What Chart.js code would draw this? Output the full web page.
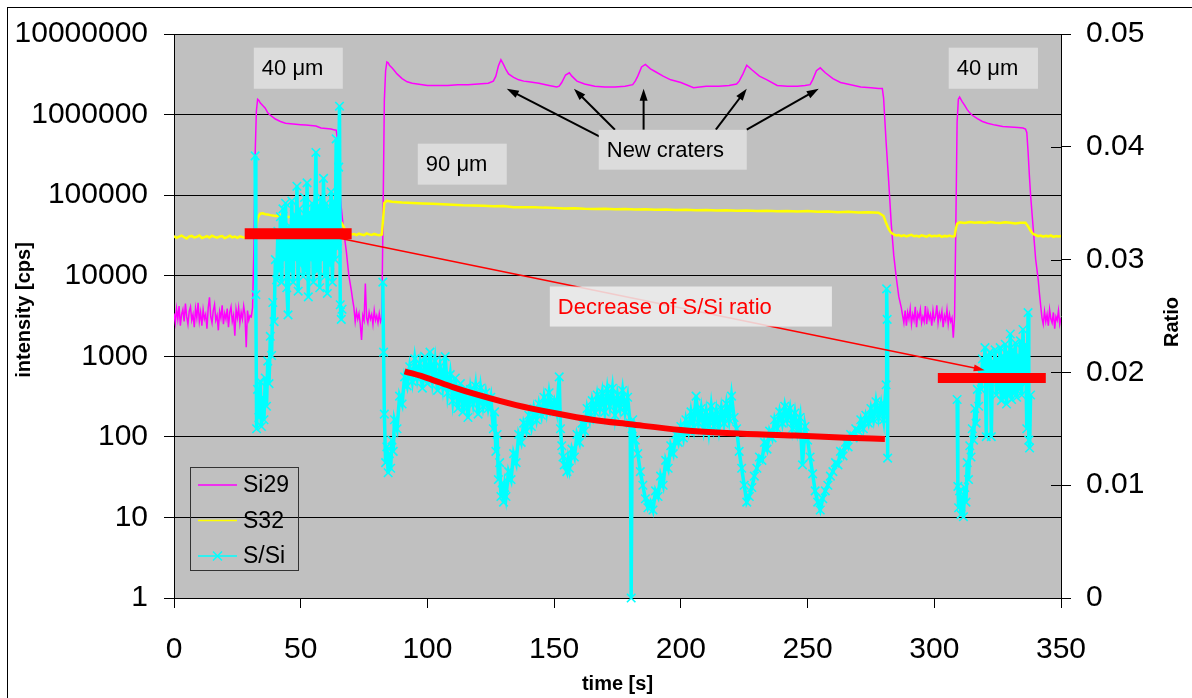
<!DOCTYPE html>
<html>
<head>
<meta charset="utf-8">
<script src="https://cdn.jsdelivr.net/npm/chart.js@4.4.0/dist/chart.umd.min.js"></script>
<style>
  html, body { margin: 0; padding: 0; background: #fff; }
  #wrap { width: 1192px; height: 698px; position: relative; }
</style>
</head>
<body>
<div id="wrap"><canvas id="profile"></canvas></div>
<script>
// Si29 intensity [cps] against time [s]
const siTime = [
  0, 0.5, 1, 1.5, 2, 2.5, 3, 3.5, 4, 4.5,
  5, 5.5, 6, 6.5, 7, 7.5, 8, 8.5, 9, 9.5,
  10, 10.5, 11, 11.5, 12, 12.5, 13, 13.5, 14, 14.5,
  15, 15.5, 16, 16.5, 17, 17.5, 18, 18.5, 19, 19.5,
  20, 20.5, 21, 21.5, 22, 22.5, 23, 23.5, 24, 24.5,
  25, 25.5, 26, 26.5, 27, 27.5, 28, 28.5, 29, 29.5,
  30, 30.5, 31, 31.5, 32, 32.5, 33, 33.5, 34, 35,
  36, 37, 38, 39, 40, 42, 44, 46, 48, 50,
  52, 54, 56, 58, 60, 62, 63, 64, 64.5, 65,
  65.5, 66, 67, 68, 69, 70, 70.5, 71, 71.5, 72,
  72.5, 73, 73.5, 74, 74.5, 75, 75.5, 76, 76.5, 77,
  77.5, 78, 78.5, 79, 79.5, 80, 80.5, 81, 81.5, 82,
  82.5, 83, 83.5, 84, 84.5, 85, 86, 87, 88, 90,
  92, 94, 96, 98, 100, 104, 108, 112, 116, 120,
  124, 126, 127, 128, 129, 130, 131, 132, 134, 136,
  138, 140, 144, 148, 151, 152, 153, 154.5, 156, 157,
  159, 162, 166, 170, 174, 178, 181, 182, 183, 184.5,
  186, 188, 190, 193, 196, 200, 205, 210, 215, 219,
  222, 223, 224.5, 226, 228, 231, 234, 238, 242, 246,
  249, 251, 252, 253.5, 255, 257, 260, 263, 267, 271,
  275, 278, 279.5, 280, 281, 282, 283, 284, 285, 286,
  287, 287.5, 288, 288.5, 289, 289.5, 290, 290.5, 291, 291.5,
  292, 292.5, 293, 293.5, 294, 294.5, 295, 295.5, 296, 296.5,
  297, 297.5, 298, 298.5, 299, 299.5, 300, 300.5, 301, 301.5,
  302, 302.5, 303, 303.5, 304, 304.5, 305, 305.5, 306, 306.5,
  307, 307.5, 308, 308.5, 309, 309.5, 310, 311, 312, 313,
  314, 315, 317, 319, 321, 324, 327, 330, 333, 335,
  336, 336.5, 337, 337.5, 338, 339, 340, 341, 341.5, 342,
  342.5, 343, 343.5, 344, 344.5, 345, 345.5, 346, 346.5, 347,
  347.5, 348, 348.5, 349, 349.5, 350
];
const siCounts = [
  3400, 2600, 3900, 2900, 4200, 2400, 3300, 3800, 2700, 4500,
  3100, 2500, 3600, 4100, 2800, 3300, 2300, 3900, 3000, 4600,
  2700, 3500, 2400, 3800, 2900, 3300, 2200, 4000, 5400, 3100,
  2600, 3700, 4400, 2800, 3200, 2100, 3600, 3000, 4300, 2500,
  3400, 2900, 3900, 2300, 3500, 4100, 2700, 3200, 1800, 3800,
  3000, 4000, 2600, 3500, 2900, 4200, 3300, 1300, 3700, 2800,
  3200, 3100, 4000, 20000, 300000, 1100000, 1550000, 1500000, 1400000, 1300000,
  1200000, 1050000, 980000, 930000, 880000, 820000, 780000, 770000, 760000, 750000,
  740000, 730000, 720000, 680000, 670000, 660000, 650000, 640000, 500000, 200000,
  110000, 70000, 35000, 20000, 10000, 6500, 5000, 4000, 2700, 3600,
  2900, 3400, 2500, 1600, 3200, 2800, 8000, 3000, 2600, 3500,
  2900, 3300, 2500, 3700, 2800, 3200, 2600, 3400, 2700, 3000,
  60000, 1500000, 3500000, 4500000, 4400000, 4100000, 3800000, 3500000, 3200000, 2800000,
  2550000, 2450000, 2400000, 2350000, 2300000, 2300000, 2300000, 2350000, 2350000, 2400000,
  2450000, 2600000, 3000000, 4000000, 4800000, 4200000, 3600000, 3200000, 2900000, 2700000,
  2600000, 2550000, 2450000, 2300000, 2200000, 2250000, 2500000, 3100000, 3300000, 3000000,
  2600000, 2400000, 2250000, 2200000, 2200000, 2250000, 2350000, 2600000, 3000000, 3900000,
  4200000, 3700000, 3400000, 3000000, 2700000, 2500000, 2150000, 2250000, 2250000, 2300000,
  2400000, 2600000, 3200000, 4100000, 3600000, 3000000, 2700000, 2300000, 2250000, 2250000,
  2300000, 2350000, 2700000, 3500000, 3800000, 3300000, 2800000, 2500000, 2350000, 2200000,
  2150000, 2100000, 2100000, 1600000, 450000, 150000, 45000, 18000, 9500, 5500,
  4000, 3200, 2600, 3700, 2400, 3500, 2900, 3900, 2500, 3300,
  2800, 4100, 2300, 3400, 3000, 3800, 2600, 3100, 2700, 4200,
  2500, 3600, 2900, 3300, 2400, 3700, 2800, 3100, 4300, 2600,
  3400, 2900, 3600, 2300, 3200, 2800, 3800, 2500, 3300, 2700,
  3000, 1700, 3100, 40000, 800000, 1550000, 1650000, 1450000, 1300000, 1150000,
  1050000, 980000, 890000, 820000, 780000, 740000, 710000, 700000, 690000, 680000,
  660000, 600000, 350000, 180000, 100000, 40000, 16000, 9000, 6000, 4200,
  3000, 2500, 3600, 2700, 3300, 2400, 3800, 2900, 2600, 3500,
  2200, 3100, 2800, 3700, 2500, 3000
];

// S32 intensity [cps]
const sTime = [
  0, 1, 2, 3, 4, 5, 6, 7, 8, 9,
  10, 11, 12, 13, 14, 15, 16, 17, 18, 19,
  20, 21, 22, 23, 24, 25, 26, 27, 28, 29,
  30, 31, 32, 32.5, 33, 34, 35, 36, 37, 38,
  40, 42, 44, 46, 48, 50, 52, 54, 56, 58,
  60, 62, 64, 65, 66, 67, 68, 69, 70, 71,
  72, 73, 74, 75, 76, 77, 78, 79, 80, 81,
  82, 82.5, 83, 84, 86, 90, 94, 98, 102, 106,
  110, 114, 118, 122, 126, 130, 134, 138, 142, 146,
  150, 154, 158, 162, 166, 170, 174, 178, 182, 186,
  190, 194, 198, 202, 206, 210, 214, 218, 222, 226,
  230, 234, 238, 242, 246, 250, 254, 258, 262, 266,
  270, 274, 278, 280, 281, 282, 283, 284, 285, 286,
  287, 288, 289, 290, 291, 292, 293, 294, 295, 296,
  297, 298, 299, 300, 301, 302, 303, 304, 305, 306,
  307, 308, 308.5, 309, 310, 312, 314, 316, 318, 320,
  322, 324, 326, 328, 330, 332, 334, 336, 337, 338,
  339, 340, 341, 342, 343, 344, 345, 346, 347, 348,
  349, 350
];
const sCounts = [
  31000, 29500, 30500, 31500, 30000, 29000, 30800, 31200, 29800, 30300,
  31600, 29400, 30100, 30900, 29700, 31300, 30400, 29600, 30700, 31000,
  29300, 30200, 31400, 29900, 30600, 29500, 30800, 30100, 29700, 30500,
  31000, 30200, 31500, 40000, 52000, 59000, 59500, 58000, 57500, 56500,
  55000, 56000, 54000, 53500, 52500, 53000, 52000, 51000, 52000, 51500,
  51000, 50500, 50000, 49000, 46000, 40000, 35000, 33500, 32500, 33000,
  32000, 33200, 32400, 31800, 33500, 32600, 32100, 33000, 32300, 31900,
  32500, 50000, 80000, 85000, 83000, 81000, 80000, 79000, 78000, 77000,
  76000, 75000, 74500, 74000, 73000, 73500, 71000, 70500, 71000, 70000,
  69500, 68500, 69000, 68000, 67500, 68000, 67000, 67500, 66500, 67000,
  66000, 66500, 65500, 66000, 65000, 65500, 64500, 65000, 64000, 64500,
  63500, 64000, 63000, 63500, 62500, 63500, 62000, 62500, 61500, 62000,
  61000, 61500, 60500, 55000, 45000, 38000, 34000, 32500, 31500, 32000,
  31000, 31800, 30800, 31500, 32200, 30900, 31400, 30600, 31700, 31100,
  30500, 31900, 30700, 31300, 30900, 31600, 30400, 31200, 30800, 31500,
  30600, 31000, 38000, 44000, 46000, 45000, 46500, 45500, 46000, 45000,
  46500, 45500, 45000, 46000, 45500, 44500, 45500, 45500, 41000, 36000,
  33000, 32000, 31000, 31500, 30500, 31200, 30800, 31600, 30300, 31000,
  30700, 31200
];

// S/Si ratio (right axis); null marks where nothing is plotted
const ratioTime = [
  32.0, 32.3, 32.6, 33.0, 33.5, 34.0, 34.5, 35.0, 35.5, 36.0,
  36.5, 37, 37.5, 38, 38.5, 39, 39.5, 40, 40.5, 41,
  41.5, 42, 42.5, 43, 43.5, 44, 44.5, 45, 45.5, 46,
  46.5, 47, 47.5, 48, 48.5, 49, 49.5, 50, 50.5, 51,
  51.5, 52, 52.5, 53, 53.5, 54, 54.5, 55, 55.5, 56,
  56.5, 57, 57.5, 58, 58.5, 59, 59.5, 60, 60.5, 61,
  61.5, 62, 62.5, 63, 63.5, 64, 64.5, 65, 65.3, 65.6,
  66.0, 66.3, 74, 82.4, 82.7, 83, 83.5, 84, 84.5, 85,
  85.5, 86, 86.5, 87, 88, 89, 90, 91, 92, 93,
  94, 95, 96, 97, 98, 99, 100, 101, 102, 103,
  104, 105, 106, 107, 108, 109, 110, 111, 112, 113,
  114, 115, 116, 117, 118, 119, 120, 121, 122, 123,
  124, 125, 126, 126.5, 127, 127.5, 128, 128.5, 129, 129.5,
  130, 130.5, 131, 132, 133, 134, 135, 136, 137, 138,
  139, 140, 141, 142, 143, 144, 145, 146, 147, 148,
  149, 150, 151, 152, 152.5, 153, 153.5, 154, 155, 155.5,
  156, 157, 158, 159, 160, 161, 162, 163, 164, 165,
  166, 167, 168, 169, 170, 171, 172, 173, 174, 175,
  176, 177, 178, 179, 180, 180.4, 180.8, 181, 182, 183,
  184, 185, 186, 187, 188, 189, 190, 191, 192, 193,
  194, 195, 196, 197, 198, 199, 200, 201, 202, 203,
  204, 205, 206, 207, 208, 209, 210, 211, 212, 213,
  214, 215, 216, 217, 218, 219, 220, 221, 222, 223,
  224, 225, 226, 227, 228, 229, 230, 231, 232, 233,
  234, 235, 236, 237, 238, 239, 240, 241, 242, 243,
  244, 245, 246, 247, 248, 249, 250, 251, 252, 253,
  254, 255, 256, 257, 258, 259, 260, 261, 262, 263,
  264, 265, 266, 267, 268, 269, 270, 271, 272, 273,
  274, 275, 276, 277, 278, 279, 280, 281, 281.2, 281.4,
  281.6, 295, 309.0, 309.3, 309.6, 310, 310.5, 311, 311.5, 312,
  312.5, 313, 313.5, 314, 314.5, 315, 315.5, 316, 316.5, 317,
  317.5, 318, 318.5, 319, 319.5, 320, 320.5, 321, 321.5, 322,
  322.5, 323, 323.5, 324, 324.5, 325, 325.5, 326, 326.5, 327,
  327.5, 328, 328.5, 329, 329.5, 330, 330.5, 331, 331.5, 332,
  332.5, 333, 333.5, 334, 334.5, 335, 335.5, 336, 336.5, 337,
  337.3, 337.6, 338
];
const ratioValue = [
  0.0392, 0.0269, 0.0150, 0.0185, 0.0160, 0.0192, 0.0152, 0.0178, 0.0158, 0.0195,
  0.0170, 0.0210, 0.0190, 0.0232, 0.0215, 0.0262, 0.0245, 0.0300, 0.0282, 0.0325,
  0.0290, 0.0338, 0.0280, 0.0345, 0.0300, 0.0350, 0.0275, 0.0251, 0.0330, 0.0290,
  0.0352, 0.0280, 0.0340, 0.0300, 0.0365, 0.0272, 0.0345, 0.0295, 0.0338, 0.0285,
  0.0355, 0.0290, 0.0368, 0.0267, 0.0342, 0.0300, 0.0350, 0.0280, 0.0335, 0.0395,
  0.0290, 0.0348, 0.0275, 0.0355, 0.0300, 0.0372, 0.0285, 0.0350, 0.0270, 0.0345,
  0.0295, 0.0360, 0.0280, 0.0352, 0.0300, 0.0407, 0.0310, 0.0382, 0.0436, 0.0260,
  0.0247, 0.0256, null, 0.0280, 0.0218, 0.0163, 0.0120, 0.0134, 0.0111, 0.0128,
  0.0115, 0.0140, 0.0130, 0.0158, 0.0150, 0.0179, 0.0172, 0.0196, 0.0188, 0.0205,
  0.0192, 0.0212, 0.0195, 0.0208, 0.0186, 0.0214, 0.0190, 0.0218, 0.0193, 0.0210,
  0.0184, 0.0205, 0.0188, 0.0214, 0.0182, 0.0198, 0.0175, 0.0195, 0.0168, 0.0190,
  0.0165, 0.0186, 0.0160, 0.0185, 0.0172, 0.0188, 0.0163, 0.0186, 0.0170, 0.0182,
  0.0168, 0.0178, 0.0150, 0.0165, 0.0130, 0.0145, 0.0105, 0.0120, 0.0090, 0.0102,
  0.0085, 0.0098, 0.0090, 0.0112, 0.0105, 0.0128, 0.0120, 0.0145, 0.0138, 0.0155,
  0.0148, 0.0162, 0.0152, 0.0168, 0.0158, 0.0172, 0.0162, 0.0178, 0.0165, 0.0182,
  0.0168, 0.0175, 0.0165, 0.0196, 0.0150, 0.0135, 0.0125, 0.0118, 0.0112, 0.0122,
  0.0115, 0.0132, 0.0125, 0.0145, 0.0138, 0.0155, 0.0148, 0.0168, 0.0158, 0.0175,
  0.0165, 0.0180, 0.0168, 0.0182, 0.0165, 0.0185, 0.0170, 0.0186, 0.0162, 0.0180,
  0.0168, 0.0184, 0.0165, 0.0178, 0.0155, 0.0000, 0.0150, 0.0158, 0.0140, 0.0128,
  0.0112, 0.0100, 0.0088, 0.0080, 0.0085, 0.0078, 0.0095, 0.0090, 0.0108, 0.0100,
  0.0122, 0.0115, 0.0135, 0.0128, 0.0145, 0.0138, 0.0152, 0.0142, 0.0158, 0.0148,
  0.0165, 0.0152, 0.0179, 0.0155, 0.0168, 0.0150, 0.0165, 0.0148, 0.0170, 0.0152,
  0.0166, 0.0150, 0.0168, 0.0155, 0.0172, 0.0158, 0.0179, 0.0160, 0.0150, 0.0130,
  0.0115, 0.0100, 0.0085, 0.0090, 0.0098, 0.0108, 0.0115, 0.0125, 0.0122, 0.0138,
  0.0132, 0.0148, 0.0142, 0.0158, 0.0150, 0.0165, 0.0155, 0.0170, 0.0158, 0.0168,
  0.0150, 0.0164, 0.0148, 0.0160, 0.0118, 0.0152, 0.0140, 0.0125, 0.0110, 0.0095,
  0.0085, 0.0078, 0.0088, 0.0095, 0.0100, 0.0108, 0.0112, 0.0120, 0.0118, 0.0130,
  0.0126, 0.0138, 0.0134, 0.0145, 0.0142, 0.0150, 0.0148, 0.0158, 0.0150, 0.0162,
  0.0155, 0.0168, 0.0158, 0.0174, 0.0160, 0.0172, 0.0158, 0.0189, 0.0274, 0.0247,
  0.0124, null, 0.0176, 0.0099, 0.0080, 0.0095, 0.0074, 0.0090, 0.0072, 0.0098,
  0.0085, 0.0120, 0.0105, 0.0135, 0.0125, 0.0150, 0.0140, 0.0168, 0.0155, 0.0185,
  0.0170, 0.0200, 0.0185, 0.0212, 0.0195, 0.0222, 0.0143, 0.0215, 0.0190, 0.0218,
  0.0143, 0.0210, 0.0192, 0.0220, 0.0180, 0.0212, 0.0185, 0.0222, 0.0175, 0.0215,
  0.0178, 0.0225, 0.0172, 0.0218, 0.0180, 0.0234, 0.0176, 0.0220, 0.0182, 0.0226,
  0.0178, 0.0215, 0.0185, 0.0228, 0.0180, 0.0238, 0.0190, 0.0225, 0.0150, 0.0253,
  0.0140, 0.0133, 0.0180
];

// hand-drawn red guides, in ratio units
const trendTime = [91, 100, 110, 120, 135, 150, 165, 180, 200, 220, 245, 265, 280.5];
const trendRatio = [0.0201, 0.0195, 0.0187, 0.0180, 0.0171, 0.0164, 0.0158, 0.0154, 0.0149, 0.0146, 0.0144, 0.0142, 0.0141];
const startBarTime = [27.9, 70.1];
const startBarRatio = [0.0323, 0.0323];
const endBarTime = [301.4, 344.0];
const endBarRatio = [0.0195, 0.0195];

const timeTicks = [0, 50, 100, 150, 200, 250, 300, 350];
const intensityTicks = [1, 10, 100, 1000, 10000, 100000, 1000000, 10000000];
const ratioTicks = [0, 0.01, 0.02, 0.03, 0.04, 0.05];

// annotation placement in axis units: [t tail, cps tail, t head, cps head]
const craterArrows = [
  [168.0, 531000, 131.3, 2090000],
  [174.0, 649000, 157.8, 2090000],
  [185.3, 649000, 185.3, 2090000],
  [213.8, 649000, 226.0, 2090000],
  [226.0, 649000, 254.4, 2090000]
];
const ratioArrow = [61.0, 0.0321, 319.9, 0.0202];
const noteBoxes = [
  { text: '40 \u03bcm', t0: 31.5, t1: 66.6, hi: 6.76e6, lo: 2.09e6, color: '#000', fill: '#DCDCDC' },
  { text: '90 \u03bcm', t0: 96.2, t1: 131.3, hi: 4.35e5, lo: 1.35e5, color: '#000', fill: '#DCDCDC' },
  { text: 'New craters', t0: 167.6, t1: 226.0, hi: 6.46e5, lo: 2.07e5, color: '#000', fill: '#DCDCDC' },
  { text: 'Decrease of S/Si ratio', t0: 148.3, t1: 259.6, hi: 7350, lo: 2340, color: '#FF0000', fill: 'rgba(238,238,238,0.85)' },
  { text: '40 \u03bcm', t0: 305.7, t1: 340.9, hi: 6.76e6, lo: 2.09e6, color: '#000', fill: '#DCDCDC' }
];

const FONT = '"Liberation Sans", Arial, sans-serif';
Chart.defaults.font.family = FONT;
Chart.defaults.color = '#000';

const toPoints = (xs, ys) => xs.map((x, i) => ({ x: x, y: ys[i] }));

function arrow(ctx, x0, y0, x1, y1, color, width, headLen, headWid) {
  const ang = Math.atan2(y1 - y0, x1 - x0);
  ctx.save();
  ctx.strokeStyle = color;
  ctx.fillStyle = color;
  ctx.lineWidth = width;
  ctx.beginPath();
  ctx.moveTo(x0, y0);
  ctx.lineTo(x1 - Math.cos(ang) * headLen * 0.7, y1 - Math.sin(ang) * headLen * 0.7);
  ctx.stroke();
  ctx.translate(x1, y1);
  ctx.rotate(ang);
  ctx.beginPath();
  ctx.moveTo(0, 0);
  ctx.lineTo(-headLen, headWid / 2);
  ctx.lineTo(-headLen, -headWid / 2);
  ctx.closePath();
  ctx.fill();
  ctx.restore();
}

const plotBackground = {
  id: 'plotBackground',
  beforeDraw(chart) {
    const { ctx, chartArea: a, width, height } = chart;
    ctx.save();
    ctx.fillStyle = '#fff';
    ctx.fillRect(0, 0, width, height);
    ctx.strokeStyle = '#000';
    ctx.lineWidth = 1;
    ctx.strokeRect(7.5, 7.5, width, height);
    ctx.fillStyle = '#C0C0C0';
    ctx.fillRect(a.left, a.top, a.right - a.left, a.bottom - a.top);
    ctx.restore();
  }
};

const notes = {
  id: 'notes',
  afterDatasetsDraw(chart) {
    const { ctx, chartArea: a, scales } = chart;
    const x = scales.x, y = scales.y, r = scales.y1;

    arrow(ctx, x.getPixelForValue(ratioArrow[0]), r.getPixelForValue(ratioArrow[1]),
      x.getPixelForValue(ratioArrow[2]), r.getPixelForValue(ratioArrow[3]), '#FF0000', 1.5, 11, 7);

    craterArrows.forEach(c => arrow(ctx, x.getPixelForValue(c[0]), y.getPixelForValue(c[1]),
      x.getPixelForValue(c[2]), y.getPixelForValue(c[3]), '#000', 2, 12, 8));

    ctx.save();
    ctx.font = '22px ' + FONT;
    ctx.textBaseline = 'middle';
    ctx.textAlign = 'left';
    noteBoxes.forEach(b => {
      const x0 = x.getPixelForValue(b.t0), x1 = x.getPixelForValue(b.t1);
      const y0 = y.getPixelForValue(b.hi), y1 = y.getPixelForValue(b.lo);
      ctx.fillStyle = b.fill;
      ctx.fillRect(x0, y0, x1 - x0, y1 - y0);
      ctx.fillStyle = b.color;
      ctx.fillText(b.text, x0 + 8, (y0 + y1) / 2 + 1);
    });
    ctx.restore();

    // legend box in the lower left corner of the plot
    const lx = a.left + 16, ly = a.bottom - 131;
    ctx.save();
    ctx.strokeStyle = '#333';
    ctx.lineWidth = 1;
    ctx.strokeRect(lx + 0.5, ly + 0.5, 108, 103);
    ctx.font = '23px ' + FONT;
    ctx.textBaseline = 'middle';
    ['Si29', 'S32', 'S/Si'].forEach((name, row) => {
      const ds = chart.data.datasets.find(d => d.label === name);
      const yy = ly + 18 + row * 35.5;
      ctx.strokeStyle = ds.borderColor;
      ctx.lineWidth = 1.5;
      ctx.beginPath();
      ctx.moveTo(lx + 8, yy);
      ctx.lineTo(lx + 47, yy);
      ctx.stroke();
      if (name === 'S/Si') {
        ctx.beginPath();
        ctx.moveTo(lx + 23, yy - 4.5); ctx.lineTo(lx + 32, yy + 4.5);
        ctx.moveTo(lx + 23, yy + 4.5); ctx.lineTo(lx + 32, yy - 4.5);
        ctx.stroke();
      }
      ctx.fillStyle = '#000';
      ctx.fillText(name, lx + 53, yy + 1);
    });
    ctx.restore();

    // right axis ticks also cross into the plot
    ctx.save();
    ctx.strokeStyle = '#000';
    ctx.lineWidth = 1;
    ratioTicks.forEach(v => {
      const yy = Math.round(r.getPixelForValue(v)) + 0.5;
      ctx.beginPath();
      ctx.moveTo(a.right - 10, yy);
      ctx.lineTo(a.right, yy);
      ctx.stroke();
    });

    // axis titles
    ctx.fillStyle = '#000';
    ctx.font = 'bold 20px ' + FONT;
    ctx.textAlign = 'center';
    ctx.textBaseline = 'middle';
    ctx.fillText('time [s]', (a.left + a.right) / 2, 684);
    ctx.translate(24, 310);
    ctx.rotate(-Math.PI / 2);
    ctx.fillText('intensity [cps]', 0, 0);
    ctx.restore();
    ctx.save();
    ctx.fillStyle = '#000';
    ctx.font = 'bold 20px ' + FONT;
    ctx.textAlign = 'center';
    ctx.textBaseline = 'middle';
    ctx.translate(1172, 322);
    ctx.rotate(-Math.PI / 2);
    ctx.fillText('Ratio', 0, 0);
    ctx.restore();
  }
};

new Chart(document.getElementById('profile'), {
  type: 'line',
  data: {
    datasets: [
      {
        label: 'trend', data: toPoints(trendTime, trendRatio), yAxisID: 'y1',
        borderColor: '#FF0000', borderWidth: 6, pointRadius: 0, cubicInterpolationMode: 'monotone'
      },
      {
        label: 'start', data: toPoints(startBarTime, startBarRatio), yAxisID: 'y1',
        borderColor: '#FF0000', borderWidth: 11, borderCapStyle: 'butt', pointRadius: 0
      },
      {
        label: 'end', data: toPoints(endBarTime, endBarRatio), yAxisID: 'y1',
        borderColor: '#FF0000', borderWidth: 10, borderCapStyle: 'butt', pointRadius: 0
      },
      {
        label: 'S/Si', data: toPoints(ratioTime, ratioValue), yAxisID: 'y1',
        borderColor: '#00FFFF', borderWidth: 3.5, borderJoinStyle: 'miter', pointStyle: 'crossRot', pointRadius: 6,
        pointBorderColor: '#00FFFF', pointBorderWidth: 1.6, pointBackgroundColor: 'rgba(0,0,0,0)',
        spanGaps: false, clip: false
      },
      {
        label: 'S32', data: toPoints(sTime, sCounts), yAxisID: 'y',
        borderColor: '#FFFF00', borderWidth: 2.5, pointRadius: 0
      },
      {
        label: 'Si29', data: toPoints(siTime, siCounts), yAxisID: 'y',
        borderColor: '#FF00FF', borderWidth: 1.5, pointRadius: 0
      }
    ]
  },
  options: {
    responsive: true,
    maintainAspectRatio: false,
    animation: false,
    events: [],
    layout: { padding: { top: 33, left: 0, right: 0, bottom: 0 } },
    plugins: { legend: { display: false }, tooltip: { enabled: false } },
    scales: {
      x: {
        type: 'linear', min: 0, max: 350,
        afterBuildTicks: s => { s.ticks = timeTicks.map(v => ({ value: v })); },
        afterFit: s => { s.height = 100; },
        ticks: { font: { size: 30 }, color: '#000', padding: 24, maxRotation: 0, callback: v => String(v) },
        grid: { drawOnChartArea: false, tickLength: 10, color: '#000' },
        border: { color: '#000', width: 1 }
      },
      y: {
        type: 'logarithmic', position: 'left', min: 1, max: 10000000,
        afterBuildTicks: s => { s.ticks = intensityTicks.map(v => ({ value: v })); },
        afterFit: s => { s.width = 174; },
        ticks: { font: { size: 30 }, color: '#000', padding: 16, callback: v => String(v) },
        grid: { color: '#000', tickLength: 10, lineWidth: 1 },
        border: { color: '#000', width: 1 }
      },
      y1: {
        type: 'linear', position: 'right', min: 0, max: 0.05,
        afterBuildTicks: s => { s.ticks = ratioTicks.map(v => ({ value: v })); },
        afterFit: s => { s.width = 131; },
        ticks: { font: { size: 30 }, color: '#000', padding: 15, callback: v => String(v) },
        grid: { drawOnChartArea: false, tickLength: 10, color: '#000' },
        border: { color: '#000', width: 1 }
      }
    }
  },
  plugins: [plotBackground, notes]
});
</script>
</body>
</html>
